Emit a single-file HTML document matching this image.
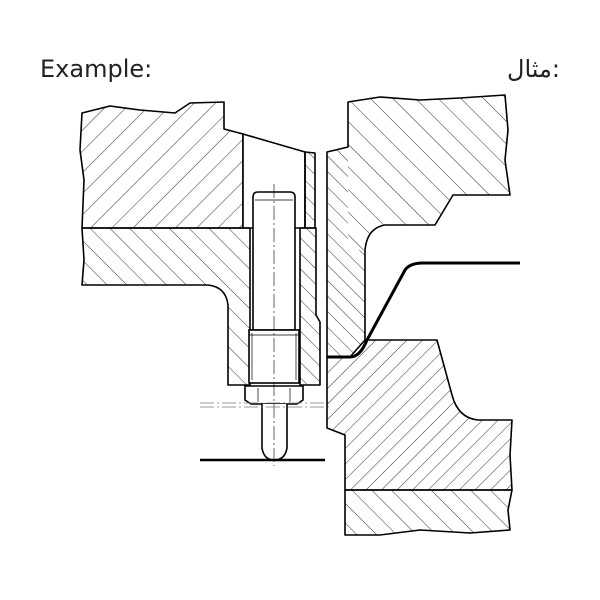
<!DOCTYPE html>
<html><head><meta charset="utf-8"><style>
html,body{margin:0;padding:0;background:#fff;}
svg{display:block}
</style></head><body>
<svg width="600" height="600" viewBox="0 0 600 600" xmlns="http://www.w3.org/2000/svg">
<defs>
<pattern id="hA" patternUnits="userSpaceOnUse" width="15" height="15" patternTransform="rotate(45)"><line x1="0" y1="0" x2="0" y2="15" stroke="#000" stroke-width="0.8"/></pattern>
<pattern id="hB" patternUnits="userSpaceOnUse" width="11" height="11" patternTransform="rotate(-45)"><line x1="0" y1="0" x2="0" y2="11" stroke="#000" stroke-width="0.8"/></pattern>
<pattern id="hL" patternUnits="userSpaceOnUse" width="14" height="14" patternTransform="rotate(-45)"><line x1="0" y1="0" x2="0" y2="14" stroke="#000" stroke-width="0.8"/></pattern>
<pattern id="hC" patternUnits="userSpaceOnUse" width="16" height="16" patternTransform="rotate(-45)"><line x1="0" y1="0" x2="0" y2="16" stroke="#000" stroke-width="0.8"/></pattern>
<pattern id="hD" patternUnits="userSpaceOnUse" width="11" height="11" patternTransform="rotate(45)"><line x1="0" y1="0" x2="0" y2="11" stroke="#000" stroke-width="0.8"/></pattern>
</defs>
<text x="40" y="77" font-family="DejaVu Sans, sans-serif" font-size="24" fill="#222">Example:</text>
<text x="507" y="77" font-family="DejaVu Sans, 'Noto Sans CJK JP', sans-serif" font-size="24" fill="#222">مثال:</text>

<g stroke="#000" stroke-width="1.6" stroke-linejoin="round">
<path d="M82,113 L110,106 L140,110 L175,113 L190,103 L224,102 L224,129 L243,134 L243,228 L82,228 L84,180 L80,150 Z" fill="url(#hA)"/>
<path d="M243,134 L305,152 L305,228 L243,228 Z" fill="#fff"/>
<path d="M305,152 L315,153 L315,228 L305,228 Z" fill="url(#hB)"/>
<path d="M82,228 L250,228 L250,385 L228,385 L228,305 Q226,287 208,285 L82,285 L84,260 Z" fill="url(#hL)"/>
<path d="M300,228 L316,228 L316,315 L320,322 L320,385 L300,385 Z" fill="url(#hB)"/>
</g>

<g stroke="#000" fill="#fff">
<path d="M253,330 L253,197 Q253,192 258,192 L290,192 Q295,192 295,197 L295,330 Z" stroke-width="1.6"/>
<line x1="255" y1="200" x2="293" y2="200" stroke-width="0.7"/>
<rect x="249" y="330" width="50" height="53" stroke-width="1.6"/>
<line x1="252" y1="333" x2="252" y2="380" stroke-width="0.7"/>
<line x1="296" y1="333" x2="296" y2="380" stroke-width="0.7"/>
<line x1="249" y1="335" x2="299" y2="335" stroke-width="0.7"/>
<path d="M245,386 L303,386 L303,400 L297,404 L251,404 L245,400 Z" stroke-width="1.6"/>
<line x1="258" y1="388" x2="258" y2="402" stroke-width="0.7"/>
<line x1="290" y1="388" x2="290" y2="402" stroke-width="0.7"/>
<path d="M262,404 L262,448 Q264,460 274,460 Q285,460 287,448 L287,404" stroke-width="1.6"/>
</g>
<line x1="274" y1="184" x2="274" y2="466" stroke="#000" stroke-width="0.6" stroke-dasharray="14,3,2,3"/>
<line x1="200" y1="403" x2="330" y2="403" stroke="#777" stroke-width="0.7" stroke-dasharray="14,3,2,3"/>
<line x1="200" y1="407" x2="330" y2="407" stroke="#777" stroke-width="0.7" stroke-dasharray="14,3,2,3"/>
<line x1="200" y1="460" x2="325" y2="460" stroke="#000" stroke-width="2.5"/>

<!-- upper right block + strip fills -->
<path d="M348,102 L380,97 L420,100 L460,98 L505,95 L508,130 L505,160 L510,195 L453,195 L435,225 L385,225 Q367,228 365,250 L348,250 Z" fill="url(#hC)"/>
<path d="M327,152 L348,147 L348,250 L365,250 L365,340 L350,357 L327,357 Z" fill="url(#hB)"/>
<path d="M348,102 L380,97 L420,100 L460,98 L505,95 L508,130 L505,160 L510,195 L453,195 L435,225 L385,225 Q367,228 365,250 L365,340 L350,357 L327,357 L327,152 L348,147 Z" fill="none" stroke="#000" stroke-width="1.6" stroke-linejoin="round"/>

<g stroke="#000" stroke-width="1.6" stroke-linejoin="round">
<path d="M327,357 L350,357 Q362,357 367,340 L437,340 L452,395 Q458,418 478,420 L512,420 L510,455 L512,490 L345,490 L345,435 L327,428 Z" fill="url(#hD)"/>
<path d="M345,490 L512,490 L508,510 L510,530 L470,533 L420,530 L380,535 L345,535 Z" fill="url(#hL)"/>
</g>
<path d="M327,357 L350,357 Q360,357 367,340 L405,270 Q410,263 423,263 L520,263" fill="none" stroke="#000" stroke-width="3"/>
</svg>
</body></html>
